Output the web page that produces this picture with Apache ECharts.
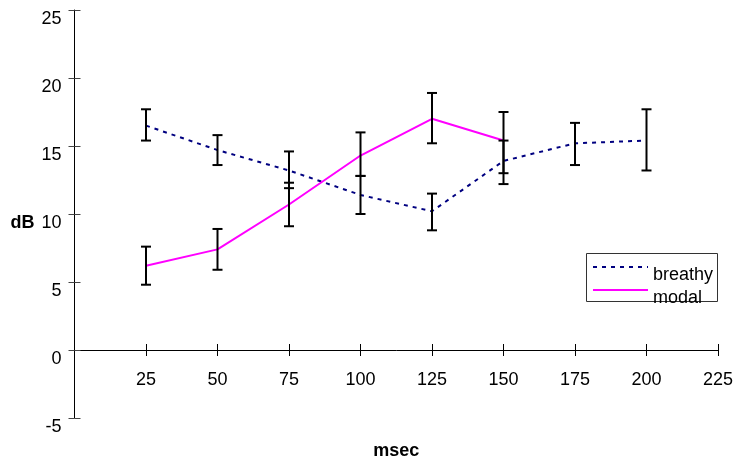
<!DOCTYPE html>
<html>
<head>
<meta charset="utf-8">
<script src="https://cdn.jsdelivr.net/npm/echarts@6/dist/echarts.min.js"></script>
<style>
html,body{margin:0;padding:0;background:#fff;}
#chart{width:736px;height:463px;}
</style>
</head>
<body>
<div id="chart"></div>
<script>
// ---- data ----
const breathyX    = [25, 50, 75, 100, 125, 150, 175, 200];
const breathyMean = [16.5, 14.7, 13.2, 11.4, 10.2, 13.9, 15.2, 15.4];
const breathyLow  = [15.4, 13.6, 11.9, 10.0, 8.8, 12.2, 13.6, 13.2];
const breathyHigh = [17.7, 15.8, 14.6, 12.8, 11.5, 15.4, 16.7, 17.7];

const modalX    = [25, 50, 75, 100, 125, 150];
const modalMean = [6.2, 7.4, 10.7, 14.3, 17.0, 15.4];
const modalLow  = [4.8, 5.9, 9.1, 12.8, 15.2, 13.0];
const modalHigh = [7.6, 8.9, 12.3, 16.0, 18.9, 17.5];

const xTicks = [0, 25, 50, 75, 100, 125, 150, 175, 200, 225];
const yTicks = [-5, 0, 5, 10, 15, 20, 25];

const seriesNames = ['breathy', 'modal'];
const xTitle = 'msec';
const yTitle = 'dB';

// ---- chart ----
const FONT = '"Liberation Sans", Arial, sans-serif';
const chart = echarts.init(document.getElementById('chart'));

const xMin = xTicks[0], xMax = xTicks[xTicks.length - 1], xInt = xTicks[1] - xTicks[0];
const yMin = yTicks[0], yMax = yTicks[yTicks.length - 1], yInt = yTicks[1] - yTicks[0];

function errRender(params, api) {
  const x = api.value(0), lo = api.value(1), hi = api.value(2);
  const a = api.coord([x, lo]), b = api.coord([x, hi]);
  const w = 5;
  const st = { stroke: '#000', lineWidth: 2 };
  return {
    type: 'group',
    children: [
      { type: 'line', shape: { x1: a[0], y1: a[1], x2: b[0], y2: b[1] }, style: st },
      { type: 'line', shape: { x1: a[0] - w, y1: a[1], x2: a[0] + w, y2: a[1] }, style: st },
      { type: 'line', shape: { x1: b[0] - w, y1: b[1], x2: b[0] + w, y2: b[1] }, style: st }
    ]
  };
}

const shiftDown = { fontFamily: FONT, fontSize: 18, color: '#000', lineHeight: 18, padding: [18, 0, 0, 0] };
const shiftDownBold = Object.assign({}, shiftDown, { fontWeight: 'bold' });

const legendCommon = {
  orient: 'vertical',
  left: 592,
  padding: 0,
  itemWidth: 55,
  itemHeight: 14,
  itemGap: 0,
  selectedMode: false,
  itemStyle: { opacity: 0 },
  formatter: '{t|{name}}',
  textStyle: {
    fontFamily: FONT, fontSize: 18, color: '#000',
    rich: { t: { fontFamily: FONT, fontSize: 18, color: '#000', lineHeight: 18, padding: [16, 0, 0, 0] } }
  }
};

const option = {
  animation: false,
  backgroundColor: '#fff',
  grid: { left: 74.5, right: 18, top: 10, bottom: 45, containLabel: false, outerBoundsMode: 'none' },
  graphic: [{
    type: 'rect',
    shape: { x: 586.5, y: 253.5, width: 131, height: 48 },
    style: { fill: 'none', stroke: '#333', lineWidth: 1 },
    z: 0
  }],
  legend: [
    Object.assign({}, legendCommon, { data: [seriesNames[0]], top: 250 }),
    Object.assign({}, legendCommon, { data: [seriesNames[1]], top: 273 })
  ],
  xAxis: [{
    type: 'value', min: xMin, max: xMax, interval: xInt,
    name: xTitle, nameLocation: 'middle', nameGap: 24,
    nameTextStyle: { fontFamily: FONT, fontSize: 18, fontWeight: 'bold', color: '#000' },
    axisLine: { onZero: true, lineStyle: { color: '#000', width: 1 } },
    axisTick: { show: true, length: 6, inside: false, lineStyle: { color: '#000' } },
    axisLabel: { showMinLabel: false, fontFamily: FONT, fontSize: 18, color: '#000', margin: -47 },
    splitLine: { show: false }
  }, {
    type: 'value', position: 'bottom', min: xMin, max: xMax, interval: xInt,
    axisLine: { show: false, onZero: true },
    axisTick: { show: true, length: 6, inside: true, lineStyle: { color: '#000' } },
    axisLabel: { show: false },
    splitLine: { show: false }
  }],
  yAxis: [{
    type: 'value', min: yMin, max: yMax, interval: yInt,
    name: '{t|' + yTitle + '}', nameLocation: 'middle', nameGap: 40, nameRotate: 0,
    nameTextStyle: { fontFamily: FONT, fontSize: 18, fontWeight: 'bold', color: '#000', rich: { t: shiftDownBold } },
    axisLine: { show: true, onZero: false, lineStyle: { color: '#000', width: 1 } },
    axisTick: { show: true, length: 6, inside: false, lineStyle: { color: '#444' } },
    axisLabel: { formatter: '{t|{value}}', fontFamily: FONT, fontSize: 18, color: '#000', margin: 13, rich: { t: shiftDown } },
    splitLine: { show: false }
  }, {
    type: 'value', position: 'left', min: yMin, max: yMax, interval: yInt,
    axisLine: { show: false, onZero: false },
    axisTick: { show: true, length: 6, inside: true, lineStyle: { color: '#444' } },
    axisLabel: { show: false },
    splitLine: { show: false }
  }],
  series: [{
    name: seriesNames[0], type: 'line',
    data: breathyX.map((x, i) => [x, breathyMean[i]]),
    symbol: 'none', showSymbol: false,
    lineStyle: { color: '#000080', width: 2, type: [4, 5] },
    itemStyle: { color: '#000080' },
    z: 2
  }, {
    name: seriesNames[1], type: 'line',
    data: modalX.map((x, i) => [x, modalMean[i]]),
    symbol: 'none', showSymbol: false,
    lineStyle: { color: '#FF00FF', width: 2 },
    itemStyle: { color: '#FF00FF' },
    z: 2
  }, {
    name: seriesNames[0] + ' err', type: 'custom',
    renderItem: errRender,
    data: breathyX.map((x, i) => [x, breathyLow[i], breathyHigh[i]]),
    encode: { x: 0, y: [1, 2] },
    z: 3
  }, {
    name: seriesNames[1] + ' err', type: 'custom',
    renderItem: errRender,
    data: modalX.map((x, i) => [x, modalLow[i], modalHigh[i]]),
    encode: { x: 0, y: [1, 2] },
    z: 3
  }]
};
chart.setOption(option);
</script>
</body>
</html>
